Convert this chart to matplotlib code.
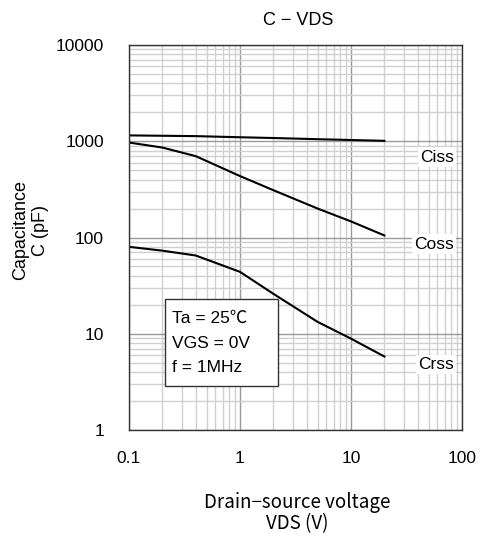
import numpy as np
import matplotlib
matplotlib.use("Agg")
import matplotlib.pyplot as plt
from matplotlib.patches import Rectangle
from matplotlib.ticker import LogLocator, FixedLocator, NullFormatter

plt.rcParams['font.family'] = ['Liberation Sans', 'Noto Sans CJK JP', 'DejaVu Sans']
jp = ['Noto Sans CJK JP', 'DejaVu Sans']

# capacitance vs drain-source voltage
vds = [0.1, 0.2, 0.4, 1, 2, 5, 10, 20]
ciss = [1150, 1140, 1130, 1100, 1080, 1050, 1030, 1010]
coss = [970, 860, 700, 435, 310, 200, 147, 105]
crss = [80, 73, 65, 44, 26, 13.3, 8.9, 5.8]

curve_names = ["Ciss", "Coss", "Crss"]
x_ticks = [0.1, 1, 10, 100]
y_ticks = [1, 10, 100, 1000, 10000]
conditions = ["Ta = 25\u2103", "VGS = 0V", "f = 1MHz"]

fig = plt.figure(figsize=(4.81, 5.38), dpi=100)
ax = fig.add_axes([0.268, 0.2007, 0.6925, 0.7157])
ax.set_xscale('log')
ax.set_yscale('log')
ax.set_xlim(0.1, 100)
ax.set_ylim(1, 10000)

ax.xaxis.set_major_locator(FixedLocator(x_ticks))
ax.yaxis.set_major_locator(FixedLocator(y_ticks))
ax.xaxis.set_minor_locator(LogLocator(base=10, subs=np.arange(2, 10)))
ax.yaxis.set_minor_locator(LogLocator(base=10, subs=np.arange(2, 10)))
ax.xaxis.set_minor_formatter(NullFormatter())
ax.yaxis.set_minor_formatter(NullFormatter())
ax.set_xticklabels([f"{v:g}" for v in x_ticks])
ax.set_yticklabels([f"{v:g}" for v in y_ticks])

ax.grid(which='major', color='#9a9a9a', lw=1.0)
ax.grid(which='minor', color='#d0d0d0', lw=1.0)
ax.set_axisbelow(True)
ax.tick_params(which='both', length=0, labelsize=12.5)
ax.tick_params(axis='x', pad=15)
ax.tick_params(axis='y', pad=18)
for s in ax.spines.values():
    s.set_color('#333333')
    s.set_linewidth(1.0)

for vals in (ciss, coss, crss):
    ax.plot(vds, vals, color='black', lw=1.5)

# curve names near the right edge, white background over the grid
label_y = [0.709, 0.483, 0.171]
for name, yf in zip(curve_names, label_y):
    ax.text(0.976, yf, name, transform=ax.transAxes, ha='right', va='center',
            fontsize=12.5, bbox=dict(facecolor='white', edgecolor='none', pad=1.5))

# measurement conditions box
ax.add_patch(Rectangle((0.108, 0.114), 0.339, 0.226, transform=ax.transAxes,
                       facecolor='white', edgecolor='#333333', lw=1.0, zorder=3))
for line, yf in zip(conditions, [0.291, 0.226, 0.163]):
    ax.text(0.129, yf, line, transform=ax.transAxes, ha='left', va='center',
            fontsize=12.5, zorder=4)

fig.text(0.619, 0.961, "C \u2212 VDS", ha='center', va='center', fontsize=13)
fig.text(0.064, 0.572, "Capacitance\nC (pF)", ha='center', va='center',
         rotation=90, fontsize=13, linespacing=1.2,
         family=['Liberation Sans Narrow', 'Liberation Sans'])
fig.text(0.617, 0.047, "Drain\u2212source voltage\nVDS (V)", ha='center',
         va='center', fontsize=13.5, family=jp, linespacing=1.0)

fig.savefig("out.png", dpi=100)
